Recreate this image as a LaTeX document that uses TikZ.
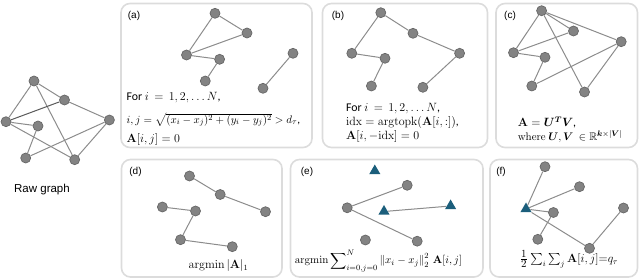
\documentclass[tikz,border=0pt]{standalone}
\usepackage{amsmath,amssymb,bm}
\usepackage[no-math]{fontspec}
\setmainfont{Carlito}
\newfontfamily\labfont{Liberation Sans}
\usetikzlibrary{shapes.geometric}
\definecolor{nodefill}{HTML}{838383}
\definecolor{nodeline}{HTML}{676767}
\definecolor{edgec}{HTML}{8C8C8C}
\definecolor{edgedark}{HTML}{5A5A5A}
\definecolor{boxc}{HTML}{DCDCDC}
\definecolor{tric}{HTML}{1B5E7B}
\begin{document}
\begin{tikzpicture}[x=1pt,y=-1pt,
 vtx/.style={circle,fill=nodefill,draw=nodeline,line width=0.7pt,minimum size=10pt,inner sep=0pt},
 tri/.style={regular polygon,regular polygon sides=3,fill=tric,inner sep=0pt,minimum size=13pt},
 link/.style={draw=edgec,line width=1pt},
 panel/.style={draw=boxc,line width=1.6pt,rounded corners=9pt},
 plabel/.style={font=\labfont\fontsize{10}{12}\selectfont,anchor=center,inner sep=0pt},
 formula/.style={font=\fontsize{11.8}{13}\selectfont,anchor=west,inner sep=0pt}]
\useasboundingbox (0,0) rectangle (640,280);

% panels
\draw[panel] (121,3.5) rectangle (312,147.5);
\draw[panel] (322.5,3.5) rectangle (487.5,147.5);
\draw[panel] (496,3.5) rectangle (637.5,147.5);
\draw[panel] (121.5,159.5) rectangle (282,277);
\draw[panel] (290.5,159.5) rectangle (483,277);
\draw[panel] (490,159.5) rectangle (637.5,277);

% raw graph
\node[vtx] (r1) at (34,81) {};
\node[vtx] (r2) at (64.5,100) {};
\node[vtx] (r3) at (6,121.7) {};
\node[vtx] (r4) at (38,126) {};
\node[vtx] (r5) at (109.4,120) {};
\node[vtx] (r6) at (25.7,158) {};
\node[vtx] (r7) at (74.7,159.7) {};
\draw[link] (r1) -- (r3);
\draw[link] (r1) -- (r2);
\draw[link] (r1) -- (r7);
\draw[link,draw=edgedark] (r3) -- (r2);
\draw[link] (r3) -- (r4);
\draw[link] (r3) -- (r7);
\draw[link] (r2) -- (r5);
\draw[link] (r4) -- (r6);
\draw[link] (r6) -- (r5);
\draw[link] (r7) -- (r5);
\node[font=\labfont\fontsize{11.5}{13}\selectfont,inner sep=0pt] (rawlab) at (42,190) {Raw graph};

% (a)
\node[plabel] (la) at (134,16) {(a)};
\node[vtx] (a1) at (215,13.3) {};
\node[vtx] (a2) at (247,33) {};
\node[vtx] (a3) at (186.5,55) {};
\node[vtx] (a4) at (219.6,59.3) {};
\node[vtx] (a5) at (205.3,81) {};
\node[vtx] (a6) at (293,53.3) {};
\node[vtx] (a7) at (263,88.3) {};
\draw[link] (a1) -- (a3);
\draw[link] (a1) -- (a2);
\draw[link] (a3) -- (a2);
\draw[link] (a3) -- (a4);
\draw[link] (a4) -- (a5);
\draw[link] (a6) -- (a7);
\node[formula] (ta1) at (126.5,98) {For $i\,=\,1,2,\ldots N$,};
\node[formula,font=\fontsize{11.2}{13}\selectfont] (ta2) at (126.5,120) {$i,j=\sqrt{(x_i-x_j)^2+(y_i-y_j)^2}>d_\tau$,};
\node[formula] (ta3) at (126.5,140) {$\mathbf{A}[i,j]=0$};

% (b)
\node[plabel] (lb) at (338,16) {(b)};
\node[vtx] (b1) at (380.8,12.7) {};
\node[vtx] (b2) at (413,33.3) {};
\node[vtx] (b3) at (459.6,53.3) {};
\node[vtx] (b4) at (351.8,53.3) {};
\node[vtx] (b5) at (385,58.3) {};
\node[vtx] (b6) at (371.4,86) {};
\node[vtx] (b7) at (422.9,87.3) {};
\draw[link] (b1) -- (b4);
\draw[link] (b1) -- (b2);
\draw[link] (b2) -- (b3);
\draw[link] (b4) -- (b5);
\draw[link] (b5) -- (b6);
\draw[link] (b3) -- (b7);
\node[formula] (tb1) at (346,108.3) {For $i\,=\,1,2,\ldots N$,};
\node[formula,font=\fontsize{11.5}{13}\selectfont] (tb2) at (346,122.7) {$\mathrm{idx}=\mathrm{argtopk}(\mathbf{A}[i,:])$,};
\node[formula] (tb3) at (346,136.7) {$\mathbf{A}[i,-\mathrm{idx}]=0$};

% (c)
\node[plabel] (lc) at (510,16) {(c)};
\node[vtx] (c1) at (541.6,10.7) {};
\node[vtx] (c2) at (573.5,31) {};
\node[vtx] (c3) at (621.2,41.7) {};
\node[vtx] (c4) at (513.5,52.7) {};
\node[vtx] (c5) at (545,57.3) {};
\node[vtx] (c6) at (531.8,86) {};
\node[vtx] (c7) at (584.5,92) {};
\draw[link] (c1) -- (c4);
\draw[link] (c1) -- (c2);
\draw[link] (c1) -- (c3);
\draw[link] (c1) -- (c7);
\draw[link] (c4) -- (c2);
\draw[link] (c4) -- (c5);
\draw[link] (c5) -- (c6);
\draw[link] (c6) -- (c3);
\draw[link] (c7) -- (c3);
\node[formula] (tc1) at (517.6,122.7) {$\mathbf{A}=\bm{U}^{\bm{T}}\bm{V}$,};
\node[formula,font=\fontsize{11}{13}\selectfont] (tc2) at (517.6,136.7) {$\mathrm{where}\ \bm{U},\bm{V}\ \in\mathbb{R}^{\bm{k}\times|\bm{V}|}$};

% (d)
\node[plabel] (ld) at (135.5,171.7) {(d)};
\node[vtx] (d1) at (189.5,176) {};
\node[vtx] (d2) at (220.2,194.5) {};
\node[vtx] (d3) at (265.5,211.7) {};
\node[vtx] (d4) at (162.4,207) {};
\node[vtx] (d5) at (195.5,211) {};
\node[vtx] (d6) at (180.5,239.7) {};
\node[vtx] (d7) at (232.3,246.7) {};
\draw[link] (d1) -- (d2);
\draw[link] (d2) -- (d3);
\draw[link] (d4) -- (d5);
\draw[link] (d5) -- (d6);
\draw[link] (d6) -- (d7);
\node[formula,anchor=center] (td) at (218.5,265.5) {$\operatorname{argmin}|\mathbf{A}|_1$};

% (e)
\node[plabel] (le) at (307,171.7) {(e)};
\node[tri] (e1) at (374.8,171) {};
\node[tri] (e2) at (384,211.5) {};
\node[tri] (e3) at (450.6,206) {};
\node[vtx] (e4) at (407.2,185.3) {};
\node[vtx] (e5) at (347.2,207.8) {};
\node[vtx] (e6) at (417.2,241.2) {};
\node[vtx] (e7) at (365.4,240) {};
\draw[link] (e5) -- (e4);
\draw[link] (e5) -- (e6);
\draw[link] (e2) -- (e3);
\node[formula,font=\fontsize{11.3}{13}\selectfont] (te) at (294.7,261) {$\operatorname{argmin}\displaystyle\sum\nolimits_{i=0,j=0}^{N}\left\|x_i-x_j\right\|_2^2\,\mathbf{A}[i,j]$};

% (f)
\node[plabel] (lf) at (501,171.7) {(f)};
\node[tri] (f0) at (526,209) {};
\node[vtx] (f1) at (545,166.7) {};
\node[vtx] (f2) at (579.5,186.7) {};
\node[vtx] (f3) at (623.5,208) {};
\node[vtx] (f4) at (553.4,212.5) {};
\node[vtx] (f5) at (537.8,239.3) {};
\node[vtx] (f6) at (589.5,248.3) {};
\draw[link] (f0) -- (f1);
\draw[link] (f0) -- (f2);
\draw[link] (f0) -- (f4);
\draw[link] (f0) -- (f6);
\draw[link] (f4) -- (f5);
\draw[link] (f6) -- (f3);
\node[formula,anchor=center] (tf) at (569,259) {{\fontsize{15}{15}\selectfont$\frac{1}{2}$}\ $\sum_i\sum_j\mathbf{A}[i,j]{=}q_\tau$};
\end{tikzpicture}
\end{document}
